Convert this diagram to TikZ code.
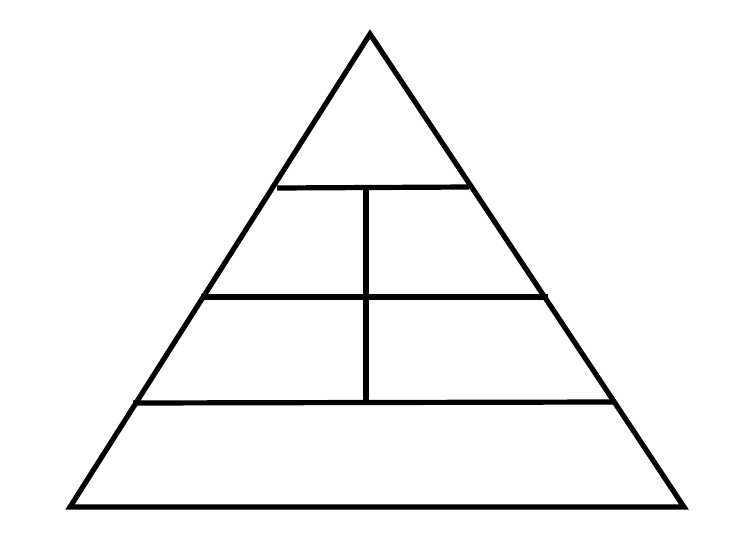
\documentclass[tikz,border=0pt]{standalone}
\begin{document}
\begin{tikzpicture}[x=0.5pt,y=-0.5pt,
  pyr/.style={line width=2.6pt,draw=black,line join=miter},
  bar/.style={line width=2.6pt,draw=black}]
\useasboundingbox[fill=white] (0,0) rectangle (755,557);
% outline
\draw[pyr] (370,34) -- (684,507) -- (70,507) -- cycle;
% horizontal levels
\draw[bar] (277,188) -- (469,187);
\draw[bar] (201,297) -- (548,297);
\draw[bar] (133,403) -- (613,402);
% vertical divider
\draw[bar] (366,188) -- (366,402);
\end{tikzpicture}
\end{document}
